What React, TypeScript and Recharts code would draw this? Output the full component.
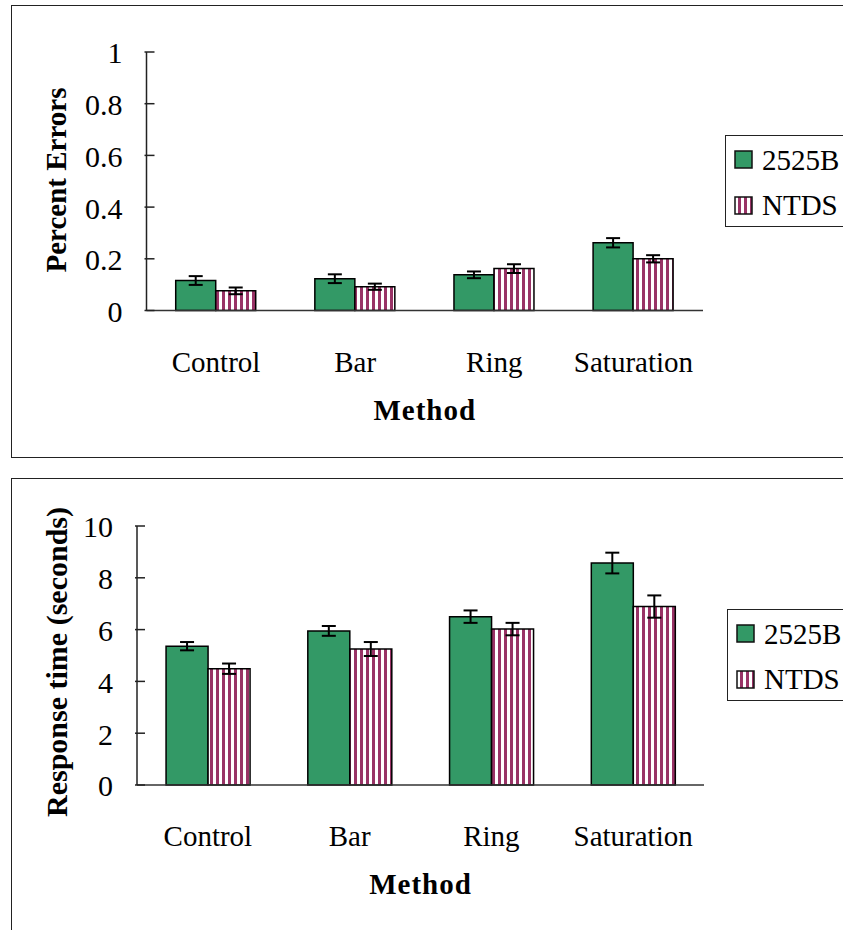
import React from "react";
import { Bar, BarChart, ErrorBar, Label, Legend, XAxis, YAxis } from "recharts";

// values
const categories = ["Control", "Bar", "Ring", "Saturation"];

const errors2525B = [0.116, 0.123, 0.138, 0.262];
const errors2525BSe = [0.017, 0.017, 0.013, 0.018];
const errorsNtds = [0.076, 0.092, 0.162, 0.2];
const errorsNtdsSe = [0.013, 0.012, 0.017, 0.014];

const time2525B = [5.36, 5.95, 6.5, 8.57];
const time2525BSe = [0.16, 0.19, 0.24, 0.4];
const timeNtds = [4.49, 5.25, 6.02, 6.89];
const timeNtdsSe = [0.2, 0.27, 0.24, 0.43];

const errorTicks = [0, 0.2, 0.4, 0.6, 0.8, 1];
const timeTicks = [0, 2, 4, 6, 8, 10];

const FONT = '"Liberation Serif", "Times New Roman", Times, serif';
const GREEN = "#339966";
const PLUM = "#993366";

const errorRows = categories.map((method, i) => ({
  method,
  a: errors2525B[i],
  aSe: errors2525BSe[i],
  b: errorsNtds[i],
  bSe: errorsNtdsSe[i],
}));

const timeRows = categories.map((method, i) => ({
  method,
  a: time2525B[i],
  aSe: time2525BSe[i],
  b: timeNtds[i],
  bSe: timeNtdsSe[i],
}));

function YTick({ x, y, payload }: any) {
  return (
    <g>
      <line x1={x} x2={x + 10} y1={y} y2={y} stroke="#222" strokeWidth={1.5} />
      <text x={x - 22} y={y} dy="0.38em" textAnchor="end" fontFamily={FONT} fontSize={30} fill="#000">
        {payload.value}
      </text>
    </g>
  );
}

function XTick({ x, y, payload }: any) {
  return (
    <text x={x} y={y + 59} textAnchor="middle" fontFamily={FONT} fontSize={29} fill="#000">
      {payload.value}
    </text>
  );
}

function LegendBox({ payload }: any) {
  return (
    <div style={{ width: 130, height: 92, boxSizing: "border-box", border: "1.5px solid #222", background: "#fff" }}>
      <svg width={127} height={89} style={{ display: "block" }}>
        {(payload || []).map((entry: any, i: number) => (
          <g key={entry.value}>
            <rect x={9} y={15 + i * 46} width={17} height={17} fill={entry.color} stroke="#111" strokeWidth={1.5} />
            <text x={36} y={33.5 + i * 45} fontFamily={FONT} fontSize={29} fill="#000">
              {entry.value}
            </text>
          </g>
        ))}
      </svg>
    </div>
  );
}

interface PanelProps {
  data: { method: string; a: number; aSe: number; b: number; bSe: number }[];
  ticks: number[];
  yTitle: string;
  yTitleSize: number;
  yTitleCenter: number;
  height: number;
  marginTop: number;
  marginRight: number;
  yAxisWidth: number;
  xAxisHeight: number;
  gap: string;
  legendLeft: number;
  legendTop: number;
}

function Panel(p: PanelProps) {
  const max = p.ticks[p.ticks.length - 1];
  return (
    <BarChart
      width={843}
      height={p.height}
      data={p.data}
      barCategoryGap={p.gap}
      barGap={0}
      margin={{ top: p.marginTop, right: p.marginRight, bottom: 0, left: 0 }}
    >
      <XAxis
        dataKey="method"
        height={p.xAxisHeight}
        tickLine={false}
        tickSize={0}
        tick={<XTick />}
        axisLine={{ stroke: "#333", strokeWidth: 1.5 }}
        interval={0}
      >
        <Label
          content={({ viewBox }: any) => (
            <text
              x={viewBox.x + viewBox.width / 2}
              y={viewBox.y + 109}
              textAnchor="middle"
              fontFamily={FONT}
              fontWeight="bold"
              fontSize={29}
              letterSpacing={1}
              fill="#000"
            >
              Method
            </text>
          )}
        />
      </XAxis>
      <XAxis xAxisId="top" dataKey="method" orientation="top" height={0} tick={false} tickLine={false} axisLine={{ stroke: "#8a8a8a", strokeWidth: 1.2 }} />
      <YAxis
        domain={[0, max]}
        ticks={p.ticks}
        width={p.yAxisWidth}
        tickLine={false}
        tickSize={0}
        tick={<YTick />}
        axisLine={{ stroke: "#222", strokeWidth: 1.5 }}
        interval={0}
      >
        <Label
          content={() => (
            <text
              x={56}
              y={p.yTitleCenter}
              transform={`rotate(-90 56 ${p.yTitleCenter})`}
              textAnchor="middle"
              dominantBaseline="central"
              fontFamily={FONT}
              fontWeight="bold"
              fontSize={p.yTitleSize}
              fill="#000"
            >
              {p.yTitle}
            </text>
          )}
        />
      </YAxis>
      <YAxis yAxisId="right" orientation="right" domain={[0, max]} width={0} tick={false} tickLine={false} axisLine={{ stroke: "#8a8a8a", strokeWidth: 1.2 }} />
      <Legend
        layout="vertical"
        align="center"
        verticalAlign="middle"
        content={<LegendBox />}
        wrapperStyle={{ left: p.legendLeft, top: p.legendTop, right: "auto", bottom: "auto", width: 130, height: 92 }}
      />
      <Bar dataKey="a" name="2525B" fill={GREEN} stroke="#000" strokeWidth={1.5} isAnimationActive={false}>
        <ErrorBar dataKey="aSe" width={7} stroke="#000" strokeWidth={2} direction="y" isAnimationActive={false} />
      </Bar>
      <Bar dataKey="b" name="NTDS" fill="url(#ntdsStripes)" stroke="#000" strokeWidth={1.5} isAnimationActive={false}>
        <ErrorBar dataKey="bSe" width={7} stroke="#000" strokeWidth={2} direction="y" isAnimationActive={false} />
      </Bar>
    </BarChart>
  );
}

export default function App() {
  return (
    <div style={{ position: "absolute", left: 0, top: 0, width: 843, height: 930, overflow: "hidden", background: "#fff" }}>
      <svg width={0} height={0} style={{ position: "absolute" }}>
        <defs>
          <pattern id="ntdsStripes" patternUnits="userSpaceOnUse" width={6} height={10}>
            <rect x={0} y={0} width={6} height={10} fill="#fff" />
            <rect x={0} y={0} width={3} height={10} fill={PLUM} />
          </pattern>
        </defs>
      </svg>
      <div style={{ position: "absolute", left: 11, top: 5, width: 845, height: 453, border: "1.5px solid #222", boxSizing: "border-box" }} />
      <div style={{ position: "absolute", left: 11, top: 478, width: 845, height: 500, border: "1.5px solid #222", boxSizing: "border-box" }} />
      <div style={{ position: "absolute", left: 0, top: 0 }}>
        <Panel
          data={errorRows}
          ticks={errorTicks}
          yTitle="Percent Errors"
          yTitleSize={29}
          yTitleCenter={180}
          height={460}
          marginTop={52}
          marginRight={140}
          yAxisWidth={146.5}
          xAxisHeight={149.5}
          gap="21%"
          legendLeft={725}
          legendTop={135}
        />
      </div>
      <div style={{ position: "absolute", left: 0, top: 460 }}>
        <Panel
          data={timeRows}
          ticks={timeTicks}
          yTitle="Response time (seconds)"
          yTitleSize={30}
          yTitleCenter={202}
          height={470}
          marginTop={66}
          marginRight={139}
          yAxisWidth={137}
          xAxisHeight={145}
          gap="20.5%"
          legendLeft={727}
          legendTop={149}
        />
      </div>
    </div>
  );
}
